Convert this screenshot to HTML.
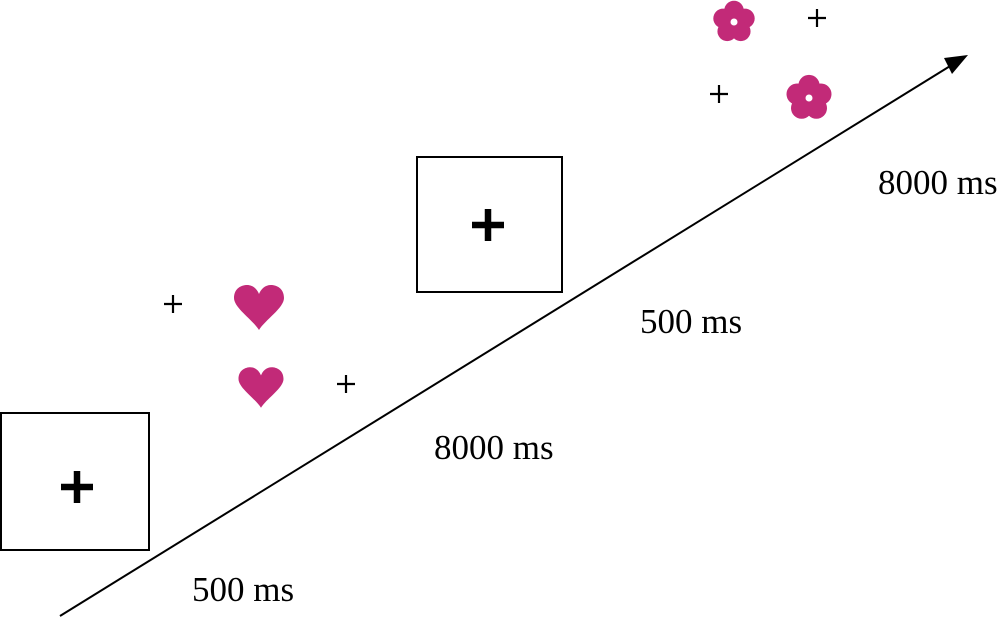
<!DOCTYPE html>
<html><head><style>body{margin:0;background:#fff}svg{display:block}</style></head><body>
<svg width="1000" height="618" viewBox="0 0 1000 618" xmlns="http://www.w3.org/2000/svg">
<defs>
<g id="fl">
<circle cx="0" cy="-10" r="8.5"/><circle cx="9.5" cy="-3.1" r="8.5"/><circle cx="5.9" cy="8.1" r="8.5"/><circle cx="-5.9" cy="8.1" r="8.5"/><circle cx="-9.5" cy="-3.1" r="8.5"/><circle r="9"/>
</g>
<path id="ht" d="M0,22 C-6,12 -25,0 -25,-10 C-25,-20 -17,-23 -12,-23 C-6,-23 -2,-19 0,-14 C2,-19 6,-23 12,-23 C17,-23 25,-20 25,-10 C25,0 6,12 0,22 Z"/>
</defs>
<g fill="none" stroke="#000" stroke-width="2">
<rect x="1" y="413" width="148" height="137"/>
<rect x="417" y="157" width="145" height="135"/>
<line x1="60" y1="616" x2="955" y2="63"/>
</g>
<polygon points="968,55 944,58 952,74" fill="#000"/>
<g stroke="#000" stroke-width="6.5">
<line x1="61" y1="487" x2="93" y2="487"/><line x1="77" y1="471" x2="77" y2="503"/>
<line x1="472" y1="225" x2="504" y2="225"/><line x1="488" y1="209" x2="488" y2="241"/>
</g>
<g stroke="#000" stroke-width="2.2">
<line x1="164" y1="304" x2="182" y2="304"/><line x1="173" y1="295" x2="173" y2="313"/>
<line x1="337" y1="384" x2="355" y2="384"/><line x1="346" y1="375" x2="346" y2="393"/>
<line x1="710" y1="94" x2="728" y2="94"/><line x1="719" y1="85" x2="719" y2="103"/>
<line x1="808" y1="18" x2="826" y2="18"/><line x1="817" y1="9" x2="817" y2="27"/>
</g>
<g fill="#c22a78">
<use href="#ht" transform="translate(259,308)"/>
<use href="#ht" transform="translate(261,388) scale(0.9)"/>
<use href="#fl" transform="translate(734,22) scale(1.15)"/>
<use href="#fl" transform="translate(809,98) scale(1.25)"/>
</g>
<circle cx="734" cy="22" r="3.5" fill="#fff"/><circle cx="809" cy="98" r="3.5" fill="#fff"/>
<g font-family="Liberation Serif, serif" font-size="35" fill="#000">
<text x="192" y="601">500 ms</text>
<text x="434" y="459">8000 ms</text>
<text x="640" y="333">500 ms</text>
<text x="878" y="194">8000 ms</text>
</g>
</svg>
</body></html>
